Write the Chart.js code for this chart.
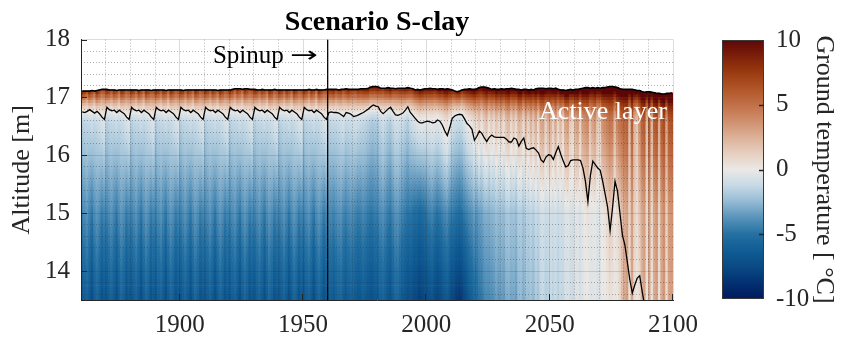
<!DOCTYPE html>
<html><head><meta charset="utf-8">
<script src="https://cdn.jsdelivr.net/npm/chart.js@4.4.1/dist/chart.umd.min.js"></script>
<style>
html,body{margin:0;padding:0;background:#fff;}
#wrap{position:relative;width:845px;height:339px;overflow:hidden;background:#fff;}
#main{position:absolute;left:0;top:0;}
#cbar{position:absolute;left:700px;top:0;}
</style></head><body>
<div id="wrap"><canvas id="main" width="708" height="339"></canvas><canvas id="cbar" width="145" height="339"></canvas></div>
<script>
// ---------------- DATA ----------------
const titleText = 'Scenario S-clay';
const yTitle = 'Altitude [m]';
const cbTitle = 'Ground temperature [ °C]';
const spinupLabel = 'Spinup';
const spinupArrow = '\u2192';
const activeLabel = 'Active layer';
const spinupYear = 1960;

const years = Array.from({length: 240}, (_, i) => 1860 + i);   // one column per year
const xTicks = [1900, 1950, 2000, 2050, 2100];
const yTicks = [14, 15, 16, 17, 18];
const cbTicks = [-10, -5, 0, 5, 10];

// altitude of the ground surface [m]
const surfaceAlt = [
17.11,17.11,17.11,17.11,17.12,17.11,17.12,17.13,17.14,17.14,
17.14,17.13,17.13,17.13,17.12,17.13,17.13,17.13,17.13,17.13,
17.13,17.13,17.13,17.12,17.13,17.13,17.13,17.13,17.12,17.13,
17.13,17.13,17.13,17.13,17.12,17.13,17.13,17.13,17.13,17.13,
17.13,17.12,17.13,17.13,17.13,17.13,17.13,17.13,17.13,17.13,
17.13,17.13,17.13,17.13,17.13,17.12,17.13,17.13,17.13,17.13,
17.13,17.14,17.15,17.15,17.15,17.14,17.15,17.15,17.14,17.14,
17.14,17.13,17.13,17.14,17.13,17.13,17.13,17.13,17.14,17.13,
17.13,17.13,17.13,17.13,17.13,17.13,17.13,17.13,17.13,17.13,
17.13,17.13,17.14,17.13,17.13,17.14,17.13,17.13,17.13,17.14,
17.14,17.14,17.14,17.14,17.13,17.14,17.14,17.15,17.14,17.14,
17.14,17.14,17.14,17.15,17.15,17.15,17.16,17.18,17.19,17.19,
17.18,17.16,17.16,17.16,17.17,17.16,17.16,17.15,17.16,17.16,
17.16,17.16,17.17,17.16,17.15,17.13,17.14,17.13,17.14,17.15,
17.15,17.16,17.15,17.15,17.14,17.15,17.15,17.14,17.15,17.14,
17.13,17.11,17.10,17.11,17.13,17.14,17.14,17.15,17.14,17.14,
17.15,17.17,17.18,17.18,17.17,17.16,17.14,17.15,17.14,17.14,
17.15,17.14,17.15,17.15,17.16,17.15,17.14,17.14,17.13,17.14,
17.14,17.13,17.14,17.13,17.15,17.16,17.16,17.16,17.15,17.16,
17.16,17.15,17.16,17.14,17.13,17.13,17.12,17.13,17.14,17.13,
17.14,17.14,17.15,17.16,17.17,17.17,17.16,17.17,17.16,17.17,
17.16,17.17,17.17,17.18,17.19,17.19,17.18,17.17,17.15,17.14,
17.14,17.14,17.14,17.14,17.13,17.12,17.12,17.10,17.09,17.10,
17.10,17.09,17.08,17.07,17.07,17.06,17.06,17.07,17.07,17.08
];

// altitude of the active-layer base (black line) [m]
const activeLayerAlt = [
16.75,16.74,16.76,16.79,16.76,16.73,16.76,16.72,16.66,16.62,
16.83,16.79,16.77,16.78,16.74,16.78,16.75,16.72,16.66,16.62,
16.83,16.79,16.77,16.78,16.74,16.78,16.75,16.72,16.66,16.62,
16.83,16.79,16.77,16.78,16.74,16.78,16.75,16.72,16.66,16.62,
16.83,16.79,16.77,16.78,16.74,16.78,16.75,16.72,16.66,16.62,
16.83,16.79,16.77,16.78,16.74,16.78,16.75,16.72,16.66,16.62,
16.83,16.79,16.77,16.78,16.74,16.78,16.75,16.72,16.66,16.62,
16.83,16.79,16.77,16.78,16.74,16.78,16.75,16.72,16.66,16.62,
16.83,16.79,16.77,16.78,16.74,16.78,16.75,16.72,16.66,16.62,
16.83,16.79,16.77,16.78,16.74,16.78,16.75,16.72,16.66,16.62,
16.74,16.75,16.74,16.74,16.73,16.70,16.67,16.74,16.73,16.71,
16.67,16.68,16.70,16.72,16.74,16.77,16.80,16.84,16.87,16.85,
16.84,16.76,16.72,16.76,16.80,16.83,16.76,16.70,16.69,16.71,
16.73,16.78,16.84,16.74,16.69,16.64,16.59,16.56,16.56,16.58,
16.59,16.58,16.56,16.57,16.61,16.59,16.52,16.42,16.34,16.48,
16.64,16.68,16.70,16.71,16.70,16.63,16.55,16.51,16.45,16.26,
16.33,16.42,16.38,16.30,16.24,16.31,16.35,16.32,16.31,16.31,
16.31,16.31,16.28,16.23,16.23,16.30,16.28,16.16,16.24,16.30,
16.12,16.10,16.12,16.13,16.09,16.04,15.92,15.88,15.97,16.01,
16.00,15.93,16.05,16.15,16.02,15.90,15.80,15.82,15.91,15.92,
15.92,15.92,15.91,15.78,15.55,15.20,15.65,15.90,15.84,15.78,
15.74,15.55,15.33,15.10,14.70,15.10,15.55,15.38,15.00,14.62,
14.45,14.15,13.85,13.62,13.76,13.88,13.92,13.65,13.40,null,
null,null,null,null,null,null,null,null,null,null
];

// ground temperature at the surface [°C] (colour saturates at 10)
const tempSurface = [
9.5,8.5,7.0,9.0,8.0,6.5,9.5,8.5,7.0,7.5,
9.5,8.5,7.0,9.0,8.0,6.5,9.5,8.5,7.0,7.5,
9.5,8.5,7.0,9.0,8.0,6.5,9.5,8.5,7.0,7.5,
9.5,8.5,7.0,9.0,8.0,6.5,9.5,8.5,7.0,7.5,
9.5,8.5,7.0,9.0,8.0,6.5,9.5,8.5,7.0,7.5,
9.5,8.5,7.0,9.0,8.0,6.5,9.5,8.5,7.0,7.5,
9.5,8.5,7.0,9.0,8.0,6.5,9.5,8.5,7.0,7.5,
9.5,8.5,7.0,9.0,8.0,6.5,9.5,8.5,7.0,7.5,
9.5,8.5,7.0,9.0,8.0,6.5,9.5,8.5,7.0,7.5,
9.5,8.5,7.0,9.0,8.0,6.5,9.5,8.5,7.0,7.5,
8.5,9.0,9.5,8.0,8.5,9.0,7.5,9.0,9.5,8.5,
8.0,8.0,9.0,9.0,9.5,9.5,10,9.5,10,10,
10,9.0,8.5,9.5,10,10.5,9.0,8.5,9.0,9.5,
9.5,10,10,9.0,9.0,9.5,10,10.5,10.5,10,
10,10.5,10,9.5,10,11,10.5,11,11.5,10.5,
9.5,9.0,9.5,10,9.0,10,10.5,11,11,11.5,
11,10.5,11,11.5,12,11,10.5,11,11.5,11,
11.5,11,11.5,12,11.5,11,11,12,12,11,
11.5,12,11.5,11,12,12,12.5,12.5,12,11.5,
11.5,12,12,11,11.5,12,12.5,12.5,12,12,
12,12,11.5,12.5,12.5,12.5,12,11.5,12,12,
12,12.5,12.5,12.5,12.5,12.5,12,12.5,12.5,12.5,
12.5,12.5,12,12.5,12,11.5,12,12.5,12.5,12,
12.5,11.5,12.5,12.5,12,12.5,12.5,12,12.5,12.5
];

// ground temperature at 16.5 m altitude [°C]
const temp16_5 = [
-1.8,-1.5,-1.4,-1.4,-1.2,-1.4,-1.3,-1.1,-0.8,-0.6,
-1.8,-1.5,-1.4,-1.4,-1.2,-1.4,-1.3,-1.1,-0.8,-0.6,
-1.8,-1.5,-1.4,-1.4,-1.2,-1.4,-1.3,-1.1,-0.8,-0.6,
-1.8,-1.5,-1.4,-1.4,-1.2,-1.4,-1.3,-1.1,-0.8,-0.6,
-1.8,-1.5,-1.4,-1.4,-1.2,-1.4,-1.3,-1.1,-0.8,-0.6,
-1.8,-1.5,-1.4,-1.4,-1.2,-1.4,-1.3,-1.1,-0.8,-0.6,
-1.8,-1.5,-1.4,-1.4,-1.2,-1.4,-1.3,-1.1,-0.8,-0.6,
-1.8,-1.5,-1.4,-1.4,-1.2,-1.4,-1.3,-1.1,-0.8,-0.6,
-1.8,-1.5,-1.4,-1.4,-1.2,-1.4,-1.3,-1.1,-0.8,-0.6,
-1.8,-1.5,-1.4,-1.4,-1.2,-1.4,-1.3,-1.1,-0.8,-0.6,
-1.4,-1.5,-1.4,-1.4,-1.3,-1.1,-0.9,-1.4,-1.3,-1.2,
-1.0,-1.0,-1.2,-1.3,-1.4,-1.5,-1.7,-1.9,-2.0,-1.9,
-1.9,-1.4,-1.1,-1.4,-1.7,-1.9,-1.4,-1.0,-1.0,-1.1,
-1.2,-1.5,-1.9,-1.3,-1.0,-0.8,-0.5,-0.3,-0.3,-0.4,
-0.5,-0.4,-0.3,-0.4,-0.6,-0.4,-0.1,0.3,0.5,-0.1,
-0.8,-1.1,-1.2,-1.3,-1.2,-0.8,-0.3,0.0,0.2,0.7,
0.5,1.4,0.3,1.2,1.8,0.4,1.3,0.6,1.6,0.8,
1.5,0.6,1.8,2.2,0.8,1.6,0.7,2.3,2.0,0.8,
2.2,1.0,2.4,1.4,2.6,0.8,2.8,3.0,1.2,2.4,
2.6,1.2,2.8,1.0,2.2,0.9,3.0,3.2,1.4,1.0,
2.8,3.2,1.2,3.4,3.6,4.0,1.8,3.0,3.4,1.6,
1.2,3.6,4.0,4.4,4.8,4.6,2.2,4.2,4.8,5.2,
5.4,5.6,2.0,5.8,2.4,1.6,3.6,5.6,6.0,2.0,
6.2,2.2,5.8,6.4,2.6,6.0,6.6,3.0,6.2,6.4
];

// ground temperature at 15.0 m altitude [°C]
const temp15_0 = [
-4.4,-4.0,-3.7,-4.2,-4.7,-4.0,-3.6,-3.9,-4.5,-4.2,
-4.4,-4.0,-3.7,-4.2,-4.7,-4.0,-3.6,-3.9,-4.5,-4.2,
-4.4,-4.0,-3.7,-4.2,-4.7,-4.0,-3.6,-3.9,-4.5,-4.2,
-4.4,-4.0,-3.7,-4.2,-4.7,-4.0,-3.6,-3.9,-4.5,-4.2,
-4.4,-4.0,-3.7,-4.2,-4.7,-4.0,-3.6,-3.9,-4.5,-4.2,
-4.4,-4.0,-3.7,-4.2,-4.7,-4.0,-3.6,-3.9,-4.5,-4.2,
-4.4,-4.0,-3.7,-4.2,-4.7,-4.0,-3.6,-3.9,-4.5,-4.2,
-4.4,-4.0,-3.7,-4.2,-4.7,-4.0,-3.6,-3.9,-4.5,-4.2,
-4.4,-4.0,-3.7,-4.2,-4.7,-4.0,-3.6,-3.9,-4.5,-4.2,
-4.4,-4.0,-3.7,-4.2,-4.7,-4.0,-3.6,-3.9,-4.5,-4.2,
-4.0,-4.1,-4.3,-4.0,-3.8,-3.7,-4.2,-4.4,-4.1,-3.9,
-4.0,-4.3,-4.5,-4.4,-4.1,-4.3,-4.6,-4.8,-4.7,-4.5,
-4.4,-4.0,-3.8,-4.1,-4.5,-4.7,-4.2,-3.8,-3.7,-4.0,
-4.3,-4.6,-4.9,-4.8,-5.0,-5.2,-5.3,-5.5,-5.3,-5.1,
-4.6,-4.4,-4.2,-4.6,-4.9,-4.7,-4.4,-4.1,-3.9,-4.4,
-4.6,-4.8,-5.0,-5.2,-5.0,-4.6,-4.3,-4.0,-3.8,-3.4,
-3.8,-3.4,-3.3,-2.9,-2.8,-2.9,-2.7,-2.6,-2.3,-2.5,
-2.3,-2.5,-2.0,-1.9,-2.2,-2.1,-2.4,-1.7,-1.7,-2.2,
-1.5,-1.6,-1.4,-1.7,-1.2,-1.4,-0.9,-0.8,-1.1,-1.0,
-0.8,-1.0,-0.8,-1.2,-0.9,-1.0,-0.5,-0.4,-0.7,-0.8,
-0.4,-0.4,-0.7,-0.3,0.0,0.4,-0.3,-0.3,-0.2,-0.5,
-0.4,0.1,0.3,0.8,1.4,1.0,-0.1,0.6,1.2,2.0,
2.6,3.0,1.0,3.2,1.2,0.6,1.6,2.8,3.2,0.8,
3.4,0.8,3.0,3.6,1.0,3.2,3.8,1.2,3.4,3.6
];

// ground temperature at 13.5 m altitude (bottom) [°C]
const tempBottom = [
-6.8,-6.2,-5.8,-6.4,-7.3,-6.3,-5.6,-6.1,-7.0,-6.5,
-6.8,-6.2,-5.8,-6.4,-7.3,-6.3,-5.6,-6.1,-7.0,-6.5,
-6.8,-6.2,-5.8,-6.4,-7.3,-6.3,-5.6,-6.1,-7.0,-6.5,
-6.8,-6.2,-5.8,-6.4,-7.3,-6.3,-5.6,-6.1,-7.0,-6.5,
-6.8,-6.2,-5.8,-6.4,-7.3,-6.3,-5.6,-6.1,-7.0,-6.5,
-6.8,-6.2,-5.8,-6.4,-7.3,-6.3,-5.6,-6.1,-7.0,-6.5,
-6.8,-6.2,-5.8,-6.4,-7.3,-6.3,-5.6,-6.1,-7.0,-6.5,
-6.8,-6.2,-5.8,-6.4,-7.3,-6.3,-5.6,-6.1,-7.0,-6.5,
-6.8,-6.2,-5.8,-6.4,-7.3,-6.3,-5.6,-6.1,-7.0,-6.5,
-6.8,-6.2,-5.8,-6.4,-7.3,-6.3,-5.6,-6.1,-7.0,-6.5,
-6.0,-6.2,-6.5,-6.1,-5.8,-5.6,-6.3,-6.6,-6.2,-5.9,
-6.0,-6.4,-6.7,-6.5,-6.1,-6.4,-6.8,-7.0,-6.9,-6.6,
-6.5,-6.0,-5.7,-6.1,-6.7,-7.0,-6.2,-5.6,-5.5,-6.0,
-6.4,-6.8,-7.2,-7.0,-7.3,-7.6,-7.8,-8.1,-7.8,-7.5,
-7.3,-7.0,-6.8,-7.4,-7.8,-7.5,-7.1,-6.7,-6.4,-7.0,
-7.6,-7.9,-8.3,-8.5,-8.2,-7.6,-7.0,-6.4,-6.0,-5.5,
-5.4,-4.9,-4.8,-4.3,-4.1,-4.1,-4.0,-3.8,-3.4,-3.7,
-3.4,-3.6,-3.0,-2.9,-3.2,-3.1,-3.4,-2.6,-2.5,-3.0,
-2.3,-2.4,-2.2,-2.6,-1.9,-2.1,-1.4,-1.3,-1.7,-1.6,
-1.2,-1.5,-1.2,-1.6,-1.3,-1.4,-0.8,-0.7,-1.0,-1.2,
-0.5,-0.5,-0.8,-0.4,-0.2,-0.1,-0.4,-0.4,-0.3,-0.6,
-0.5,-0.1,-0.1,0.1,0.5,0.3,-0.2,0.2,0.8,2.0,
2.8,3.2,0.4,3.0,0.6,0.2,0.5,2.4,3.0,0.3,
3.0,0.3,2.6,3.2,0.4,2.8,3.4,0.6,3.0,3.2
];

// ---------------- STYLE ----------------
const FONT = '"Liberation Serif", "Times New Roman", Times, serif';
Chart.defaults.font.family = FONT;
Chart.defaults.color = '#262626';
const majorGrid = 'rgba(38,38,38,0.16)';
const minorGrid = 'rgba(50,50,50,0.38)';

const cmapStops = [
  [-10, '#021a5e'], [-8.75, '#033072'], [-7.5, '#0a4a84'], [-6.25, '#105c94'],
  [-5, '#2470a2'], [-3.75, '#5792ba'], [-2.5, '#94bad3'], [-1.25, '#c6d9e5'],
  [0, '#ebe8e5'], [1.25, '#e6cfc0'], [2.5, '#dcb098'], [3.75, '#cf8f6c'],
  [5, '#c17048'], [6.25, '#b05528'], [7.5, '#9a3a10'], [8.75, '#7d2008'], [10, '#5c0608']
];
const stopRgb = cmapStops.map(([v, h]) => [v, parseInt(h.slice(1,3),16), parseInt(h.slice(3,5),16), parseInt(h.slice(5,7),16)]);
function colorFor(t) {
  t = Math.max(-10, Math.min(10, t));
  for (let k = 0; k < stopRgb.length - 1; k++) {
    const a = stopRgb[k], b = stopRgb[k+1];
    if (t <= b[0]) {
      const f = (t - a[0]) / (b[0] - a[0]);
      return 'rgb(' + Math.round(a[1] + f*(b[1]-a[1])) + ',' + Math.round(a[2] + f*(b[2]-a[2])) + ',' + Math.round(a[3] + f*(b[3]-a[3])) + ')';
    }
  }
  return cmapStops[cmapStops.length-1][1];
}

// temperature in column i at altitude z, from the read anchor values
function tempAt(i, z) {
  const zs = surfaceAlt[i];
  if (z >= 16.5) { const f = (z - 16.5) / (zs - 16.5); return temp16_5[i] + (tempSurface[i] - temp16_5[i]) * f * f; }
  if (z >= 15.0) { const g = (16.5 - z) / 1.5; return temp16_5[i] + (temp15_0[i] - temp16_5[i]) * g; }
  const h = (15.0 - z) / 1.5; return temp15_0[i] + (tempBottom[i] - temp15_0[i]) * h;
}

// heat-map cells as floating bars, one dataset per altitude row
const cellStep = 0.05, zMin = 13.5, zTop = 17.2;
const nRows = Math.round((zTop - zMin) / cellStep);
const datasets = [];
for (let r = 0; r < nRows; r++) {
  const lo = +(zMin + r * cellStep).toFixed(3);
  const data = [], colors = [];
  years.forEach((yr, i) => {
    if (lo >= surfaceAlt[i]) return;
    const hi = Math.min(+(lo + cellStep).toFixed(3), surfaceAlt[i]);
    data.push({x: yr + 0.5, y: [lo, hi]});
    colors.push(colorFor(tempAt(i, (lo + hi) / 2)));
  });
  datasets.push({type: 'bar', data, backgroundColor: colors, borderWidth: 0, grouped: false,
    barPercentage: 1, categoryPercentage: 1, order: 10});
}
datasets.push({type: 'line', data: years.map((yr, i) => ({x: yr + 0.5, y: surfaceAlt[i]})),
  borderColor: '#000', borderWidth: 1.6, pointRadius: 0, tension: 0, fill: false, order: 0});
datasets.push({type: 'line', data: years.map((yr, i) => ({x: yr + 0.5, y: activeLayerAlt[i]})),
  borderColor: '#000', borderWidth: 1.3, pointRadius: 0, tension: 0, fill: false, spanGaps: false, order: 0});
datasets.push({type: 'line', data: [{x: spinupYear, y: 13.5}, {x: spinupYear, y: 18}],
  borderColor: '#000', borderWidth: 1.3, pointRadius: 0, fill: false, order: 0});

const xMinor = []; for (let v = 1870; v < 2100; v += 10) if (v % 50 !== 0) xMinor.push(v);
const yMinor = []; for (let v = 136; v < 180; v += 2) if (v % 10 !== 0) yMinor.push(v / 10);

const innerTicks = {
  id: 'innerTicks',
  afterDraw(chart) {
    const {ctx, chartArea: a, scales} = chart;
    const x = scales.x, y = scales.y;
    ctx.save();
    ctx.strokeStyle = '#262626'; ctx.lineWidth = 1;
    ctx.beginPath();
    xTicks.forEach(v => { const p = Math.round(x.getPixelForValue(v)) - 0.5; ctx.moveTo(p, a.bottom); ctx.lineTo(p, a.bottom - 6); });
    yTicks.forEach(v => { const p = Math.round(y.getPixelForValue(v)) + 0.5; ctx.moveTo(a.left, p); ctx.lineTo(a.left + 6, p); });
    ctx.stroke();
    ctx.textBaseline = 'alphabetic';
    ctx.fillStyle = '#000';
    const by = y.getPixelForValue(17.59);
    ctx.font = '25px ' + FONT; ctx.textAlign = 'left';
    ctx.fillText(spinupLabel, x.getPixelForValue(1913.5), by);
    // long thin arrow, stretched horizontally
    ctx.font = '22px "DejaVu Sans", sans-serif';
    const aw = ctx.measureText(spinupArrow).width;
    ctx.save();
    ctx.translate(x.getPixelForValue(1944.8), by - 1);
    ctx.scale(28 / aw, 1);
    ctx.fillText(spinupArrow, 0, 0);
    ctx.restore();
    ctx.font = '26px ' + FONT;
    ctx.fillStyle = '#fff'; ctx.textAlign = 'center';
    ctx.fillText(activeLabel, x.getPixelForValue(2071.6), y.getPixelForValue(16.63));
    ctx.restore();
  }
};

new Chart(document.getElementById('main'), {
  type: 'bar',
  data: {datasets},
  plugins: [innerTicks],
  options: {
    responsive: false, animation: false, events: [],
    layout: {padding: {left: 0, right: 0, top: 0, bottom: 0}},
    plugins: {
      legend: {display: false}, tooltip: {enabled: false},
      title: {display: true, text: titleText, color: '#000', fullSize: false,
        font: {size: 28, weight: 'bold'}, padding: {top: 6, bottom: 0}}
    },
    scales: {
      x: {type: 'linear', position: 'bottom', min: 1860, max: 2100, offset: false,
        afterBuildTicks: s => { s.ticks = xTicks.map(v => ({value: v})); },
        afterFit: s => { s.height = 39; },
        ticks: {font: {size: 25}, color: '#262626', padding: 10, maxRotation: 0, autoSkip: false, callback: v => String(v)},
        grid: {color: majorGrid, lineWidth: 1, drawTicks: false, offset: false, z: 1},
        border: {display: true, color: '#262626', width: 1, z: 2}},
      xm: {type: 'linear', position: 'bottom', min: 1860, max: 2100, offset: false,
        afterBuildTicks: s => { s.ticks = xMinor.map(v => ({value: v})); },
        afterFit: s => { s.height = 0; },
        ticks: {display: false},
        grid: {color: minorGrid, lineWidth: 1, drawTicks: false, offset: false, z: 1},
        border: {display: false, dash: [1, 2]}},
      y: {type: 'linear', position: 'left', min: 13.5, max: 18, beginAtZero: false,
        afterBuildTicks: s => { s.ticks = yTicks.map(v => ({value: v})); },
        afterFit: s => { s.width = 81; },
        ticks: {font: {size: 25}, color: '#262626', padding: 11, autoSkip: false, callback: v => String(v)},
        grid: {color: majorGrid, lineWidth: 1, drawTicks: false, z: 1},
        border: {display: true, color: '#262626', width: 1, z: 2},
        title: {display: true, text: yTitle, color: '#262626', font: {size: 26}, padding: {top: 7, bottom: 0}}},
      ym: {type: 'linear', position: 'left', min: 13.5, max: 18, beginAtZero: false,
        afterBuildTicks: s => { s.ticks = yMinor.map(v => ({value: v})); },
        afterFit: s => { s.width = 0; },
        ticks: {display: false},
        grid: {color: minorGrid, lineWidth: 1, drawTicks: false, z: 1},
        border: {display: false, dash: [1, 2]}}
    }
  }
});

// ---------------- COLOURBAR ----------------
const cbTickMarks = {
  id: 'cbTickMarks',
  afterDraw(chart) {
    const {ctx, chartArea: a, scales: {y}} = chart;
    ctx.save(); ctx.strokeStyle = '#262626'; ctx.lineWidth = 1.3; ctx.beginPath();
    cbTicks.forEach(v => { if (v === cbTicks[0] || v === cbTicks[cbTicks.length-1]) return;
      const p = Math.round(y.getPixelForValue(v)) + 0.5; ctx.moveTo(a.right - 5, p); ctx.lineTo(a.right, p); });
    ctx.stroke(); ctx.restore();
  }
};
new Chart(document.getElementById('cbar'), {
  type: 'bar',
  data: {labels: ['cb'], datasets: [{
    data: [[cbTicks[0], cbTicks[cbTicks.length - 1]]],
    backgroundColor: c => {
      const ch = c.chart, ys = ch.scales && ch.scales.y;
      if (!ys) return 'rgba(0,0,0,0)';
      const y0 = ys.getPixelForValue(-10), y1 = ys.getPixelForValue(10);
      if (!isFinite(y0) || !isFinite(y1) || y0 === y1) return 'rgba(0,0,0,0)';
      const g = ch.ctx.createLinearGradient(0, y0, 0, y1);
      cmapStops.forEach(([v, col]) => g.addColorStop((v + 10) / 20, col));
      return g;
    },
    borderColor: '#3a3a3a', borderWidth: 1, borderSkipped: false, inflateAmount: 0,
    barPercentage: 1, categoryPercentage: 1}]},
  plugins: [cbTickMarks],
  options: {
    responsive: false, animation: false, events: [],
    layout: {padding: {top: 40, bottom: 40, left: 22, right: 0}},
    plugins: {legend: {display: false}, tooltip: {enabled: false}},
    scales: {
      x: {display: false},
      y: {position: 'right', min: -10, max: 10, beginAtZero: false,
        afterBuildTicks: s => { s.ticks = cbTicks.map(v => ({value: v})); },
        afterFit: s => { s.width = 81; },
        grid: {display: false, drawTicks: false}, border: {display: false},
        ticks: {font: {size: 25}, color: '#262626', padding: 12, callback: v => String(v)},
        title: {display: true, text: cbTitle, color: '#262626', font: {size: 26}, padding: {top: 6, bottom: 0}}}
    }
  }
});
</script></body></html>
